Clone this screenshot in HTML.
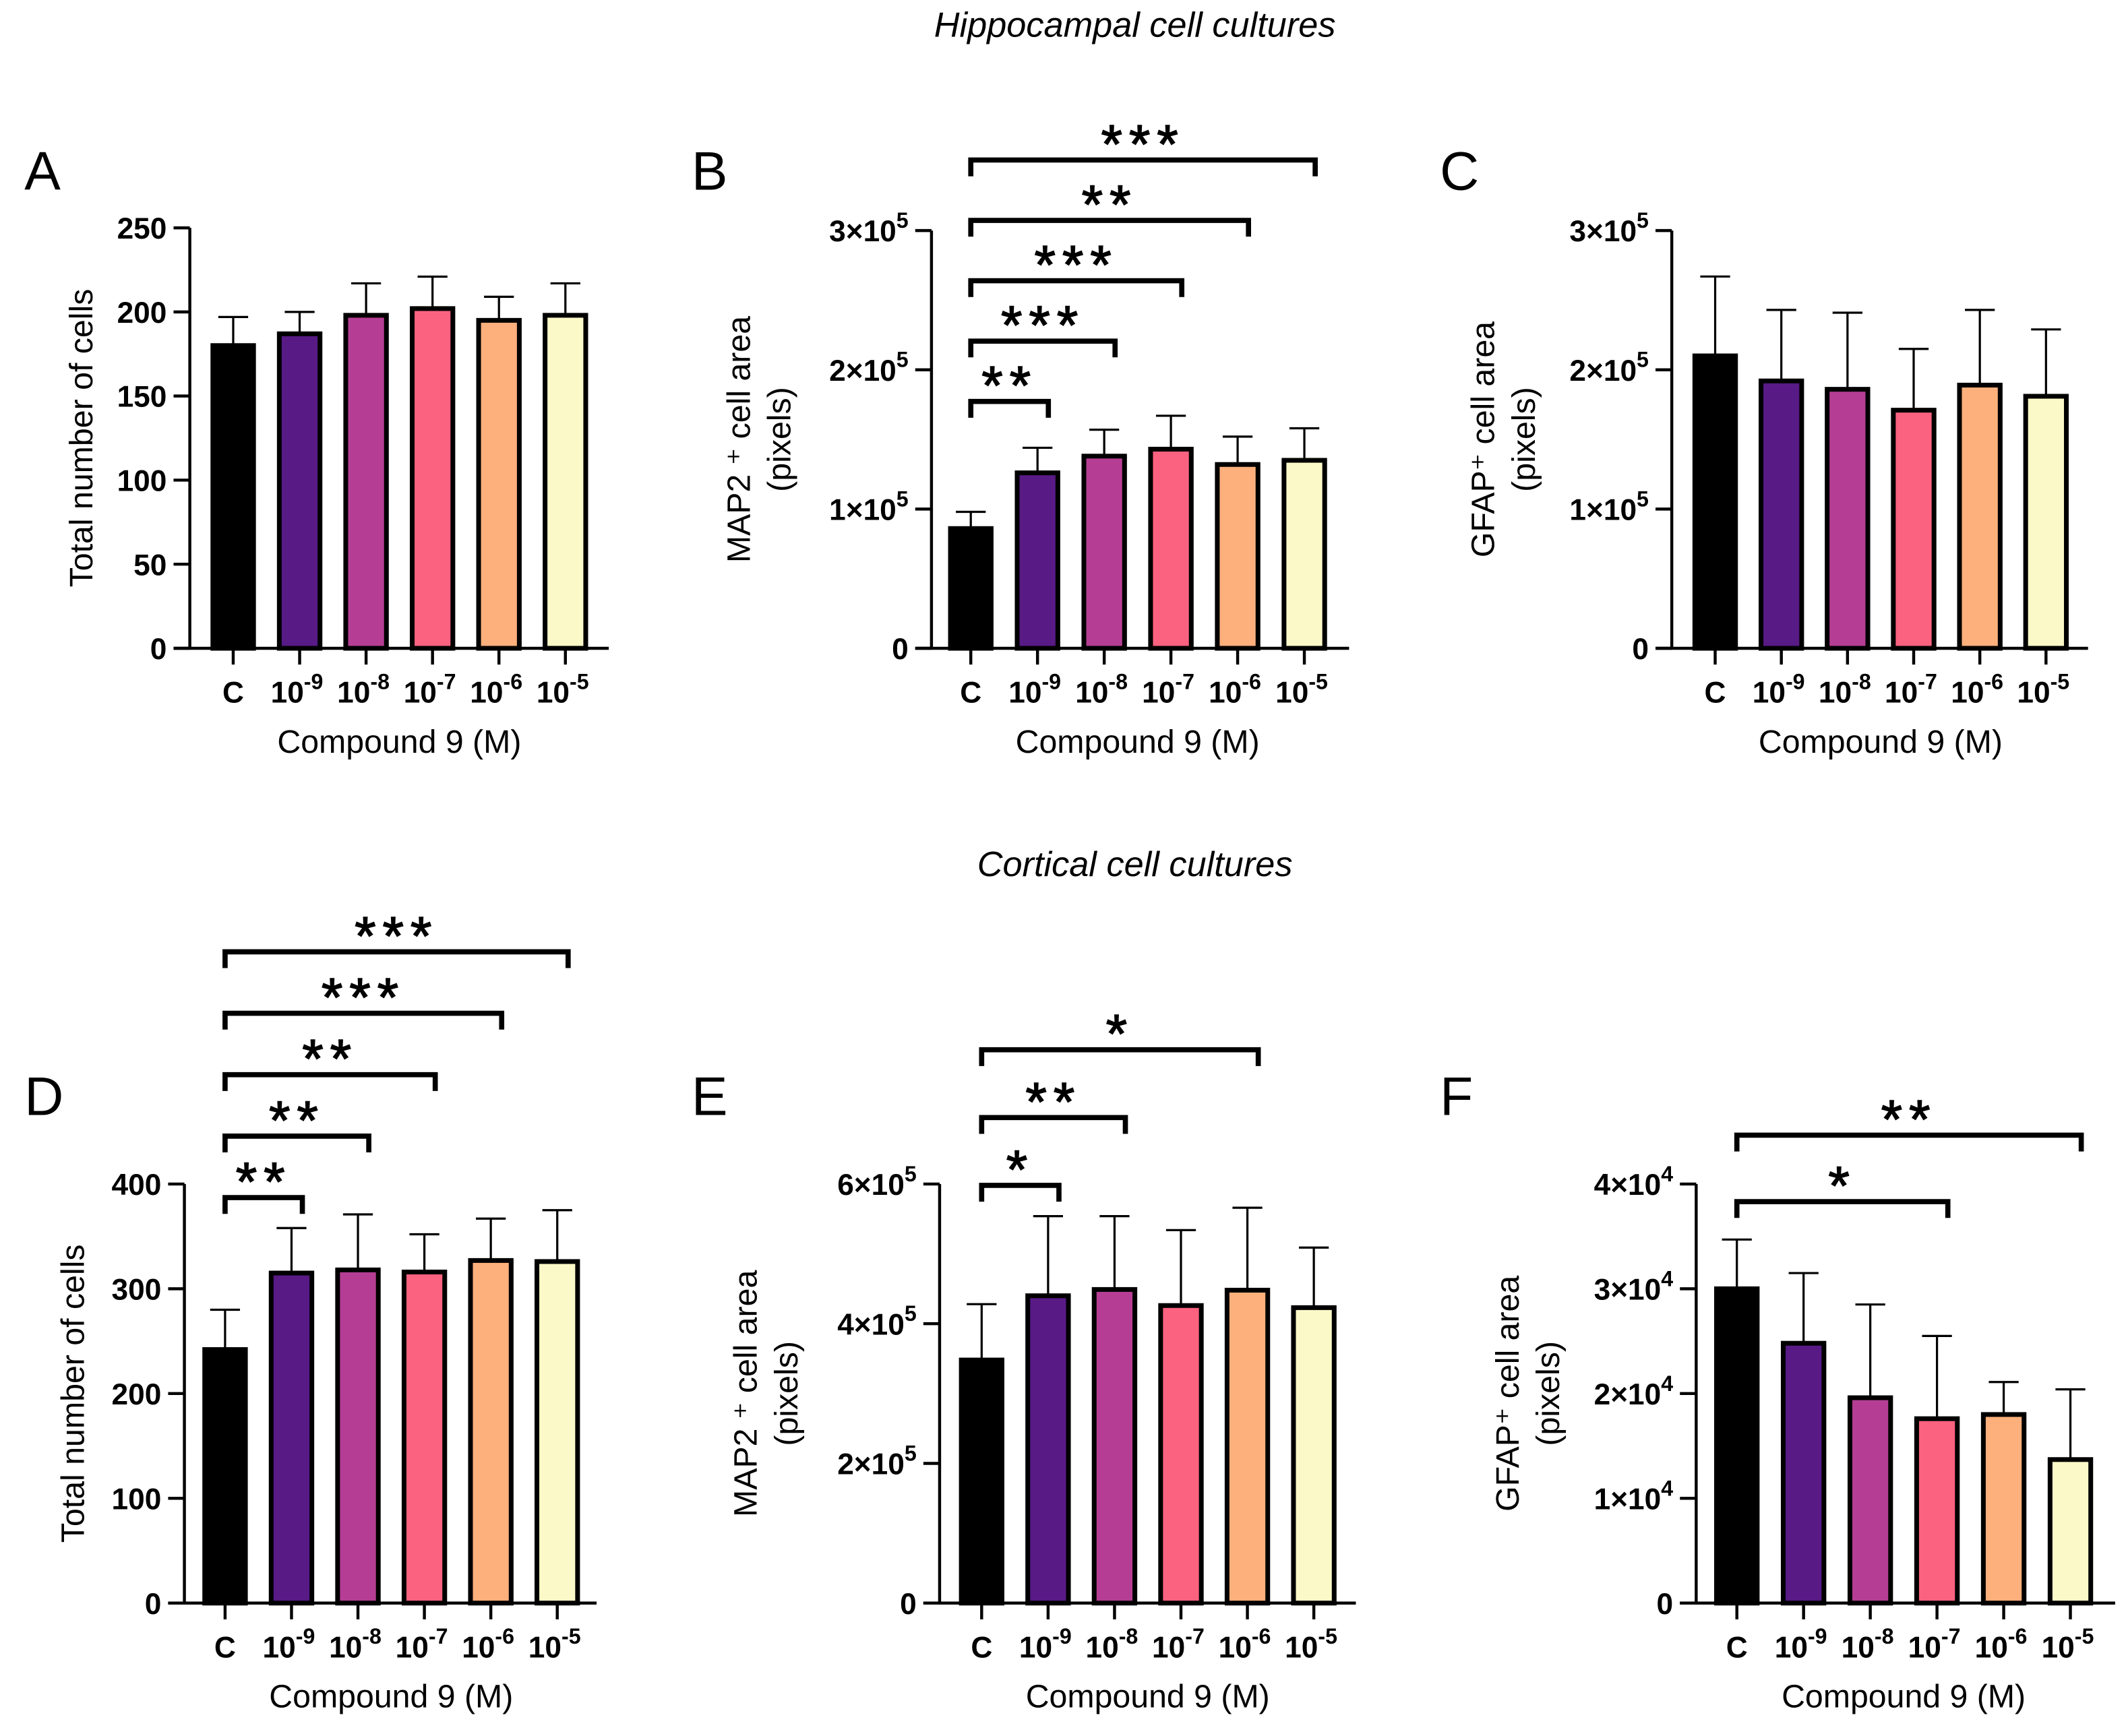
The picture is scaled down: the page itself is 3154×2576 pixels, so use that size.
<!DOCTYPE html>
<html><head><meta charset="utf-8"><style>
html,body{margin:0;padding:0;background:#fff}
svg{display:block}
text{font-family:"Liberation Sans",Arial,sans-serif;fill:#000}
.tk{font-weight:bold;font-size:22px}
.at{font-size:24px}
</style></head><body>
<svg id="fig" width="3154" height="2576" viewBox="0 0 1568 1280" preserveAspectRatio="none" xmlns="http://www.w3.org/2000/svg">
<text x="837" y="27" text-anchor="middle" font-style="italic" font-size="26">Hippocampal cell cultures</text>
<text x="837" y="646" text-anchor="middle" font-style="italic" font-size="26">Cortical cell cultures</text>
</svg>
<script>
const categories = ["C","10","10","10","10","10"];
const exps = ["","-9","-8","-7","-6","-5"];
const colors = ["#000000","#581a85","#b53e94","#fb6280","#fdb07c","#fcf9c8"];
const valuesA = [180,187,198,202,195,198];
const errA = [197,200,217,221,209,217];
const valuesB = [0.86,1.26,1.38,1.43,1.32,1.35];
const errB = [0.98,1.44,1.57,1.67,1.52,1.58];
const valuesC = [2.1,1.92,1.86,1.71,1.89,1.81];
const errC = [2.67,2.43,2.41,2.15,2.43,2.29];
const valuesD = [242,315,318,316,327,326];
const errD = [280,358,371,352,367,375];
const valuesE = [3.48,4.4,4.49,4.26,4.48,4.23];
const errE = [4.28,5.54,5.54,5.34,5.66,5.09];
const valuesF = [3.0,2.48,1.96,1.76,1.8,1.37];
const errF = [3.47,3.15,2.85,2.55,2.11,2.04];
const ticksA = [0,50,100,150,200,250];
const ticksB = [0,1,2,3];
const ticksD = [0,100,200,300,400];
const ticksE = [0,2,4,6];
const ticksF = [0,1,2,3,4];
const sigB = [[5,"***"],[4,"**"],[3,"***"],[2,"***"],[1,"**"]];
const sigD = [[5,"***"],[4,"***"],[3,"**"],[2,"**"],[1,"**"]];
const sigE = [[4,"*"],[2,"**"],[1,"*"]];
const sigF = [[5,"**"],[3,"*"]];

const svg = document.getElementById('fig');
const NS = "http://www.w3.org/2000/svg";
function mk(tag, attrs, parent){const e=document.createElementNS(NS,tag);for(const k in attrs)e.setAttribute(k,attrs[k]);(parent||svg).appendChild(e);return e;}

function panel(p){
  const g = mk('g',{});
  
  
  const y = v => p.y0 - (v - 0)/(p.ymax) * (p.y0 - p.ytop);
  const x = i => p.x0 + i*p.dx;
  const lt = mk('text',{x:p.lx,y:p.ly,'font-size':40},g); lt.textContent=p.id;
  
  
  p.vals.forEach((v,i)=>{
    const cx=x(i), w=30;
    const eb = mk('line',{x1:cx,x2:cx,y1:y(v),y2:y(p.err[i]),stroke:'#000','stroke-width':1.6},g);
    
    
    mk('line',{x1:cx-11,x2:cx+11,y1:y(p.err[i]),y2:y(p.err[i]),stroke:'#000','stroke-width':1.6},g);
    const r = mk('rect',{x:cx-w/2,y:y(v),width:w,height:p.y0-y(v),fill:colors[i],stroke:'#000','stroke-width':3.5},g);
    
    
  });
  const ya = mk('line',{x1:p.ax,x2:p.ax,y1:p.ytop,y2:p.y0,stroke:'#000','stroke-width':2.2},g);
  
  
  const xa = mk('line',{x1:p.ax-12,x2:p.xend,y1:p.y0,y2:p.y0,stroke:'#000','stroke-width':2.2},g);
  
  
  p.ticks.forEach(t=>{
    const ty=y(t);
    mk('line',{x1:p.ax-12,x2:p.ax,y1:ty,y2:ty,stroke:'#000','stroke-width':2.2},g);
    const tx = mk('text',{x:p.ax-17,y:ty+8,'text-anchor':'end',class:'tk'},g);
    
    
    if(t===0||!p.sci){tx.textContent = t;}
    else{
      const a=mk('tspan',{},tx);a.textContent=t+'\u00d710';
      const b=mk('tspan',{dy:-10,'font-size':16},tx);b.textContent=p.sci;
    }
  });
  categories.forEach((c,i)=>{
    const cx=x(i);
    mk('line',{x1:cx,x2:cx,y1:p.y0,y2:p.y0+12,stroke:'#000','stroke-width':2.2},g);
    const tx = mk('text',{x:cx+(i?-2:0),y:p.y0+40,'text-anchor':'middle',class:'tk'},g);
    
    
    const a=mk('tspan',{},tx);a.textContent=c;
    if(exps[i]){const b=mk('tspan',{dy:-10,'font-size':16},tx);b.textContent=exps[i];}
  });
  const xt = mk('text',{x:(x(0)+x(5))/2,y:p.y0+77,'text-anchor':'middle',class:'at'},g);
  xt.textContent='Compound 9 (M)';
  
  
  const cy=(p.ytop+p.y0)/2;
  p.ytitle.forEach((ln,k)=>{
    const yt = mk('text',{x:0,y:0,'text-anchor':'middle',class:'at',transform:`translate(${p.tx+k*30},${cy}) rotate(-90)`},g);
    yt.textContent=ln;
    
    
  });
  (p.sig||[]).forEach((s,k)=>{
    const by=p.sy0 - k*p.sdy;
    const x1=x(0), x2=x(s[0])+8;
    const br = mk('path',{d:`M${x1},${by+12}V${by}H${x2}V${by+12}`,fill:'none',stroke:'#000','stroke-width':3.8},g);
    
    
    const st = mk('text',{x:(x1+x2)/2,y:by+2,'text-anchor':'middle','font-size':40,'letter-spacing':5,stroke:'#000','stroke-width':0.8},g);
    st.textContent=s[1];
    
    
  });
}
const sigByRev = a => a.slice().reverse();
panel({id:'A',lx:18,ly:140,ax:140,x0:172,dx:49,xend:449,y0:478,ytop:168,ymax:250,ticks:ticksA,vals:valuesA,err:errA,ytitle:['Total number of cells'],tx:68});
panel({id:'B',lx:510,ly:140,ax:687,x0:716,dx:49.2,xend:995,y0:478,ytop:170,ymax:3,ticks:ticksB,sci:'5',vals:valuesB,err:errB,ytitle:['MAP2 \u207a cell area','(pixels)'],tx:553,sig:sigByRev(sigB),sy0:296,sdy:44.5});
panel({id:'C',lx:1062,ly:140,ax:1233,x0:1265,dx:48.8,xend:1540,y0:478,ytop:170,ymax:3,ticks:ticksB,sci:'5',vals:valuesC,err:errC,ytitle:['GFAP\u207a cell area','(pixels)'],tx:1102});
panel({id:'D',lx:18,ly:822,ax:136,x0:166,dx:49,xend:440,y0:1182,ytop:873,ymax:400,ticks:ticksD,vals:valuesD,err:errD,ytitle:['Total number of cells'],tx:62,sig:sigByRev(sigD),sy0:883,sdy:45.3});
panel({id:'E',lx:510,ly:822,ax:693,x0:724,dx:49,xend:1000,y0:1182,ytop:873,ymax:6,ticks:ticksE,sci:'5',vals:valuesE,err:errE,ytitle:['MAP2 \u207a cell area','(pixels)'],tx:558,sig:sigByRev(sigE),sy0:874,sdy:50});
panel({id:'F',lx:1062,ly:822,ax:1251,x0:1281,dx:49.2,xend:1560,y0:1182,ytop:873,ymax:4,ticks:ticksF,sci:'4',vals:valuesF,err:errF,ytitle:['GFAP\u207a cell area','(pixels)'],tx:1120,sig:sigByRev(sigF),sy0:886,sdy:49});
</script>
</body></html>
